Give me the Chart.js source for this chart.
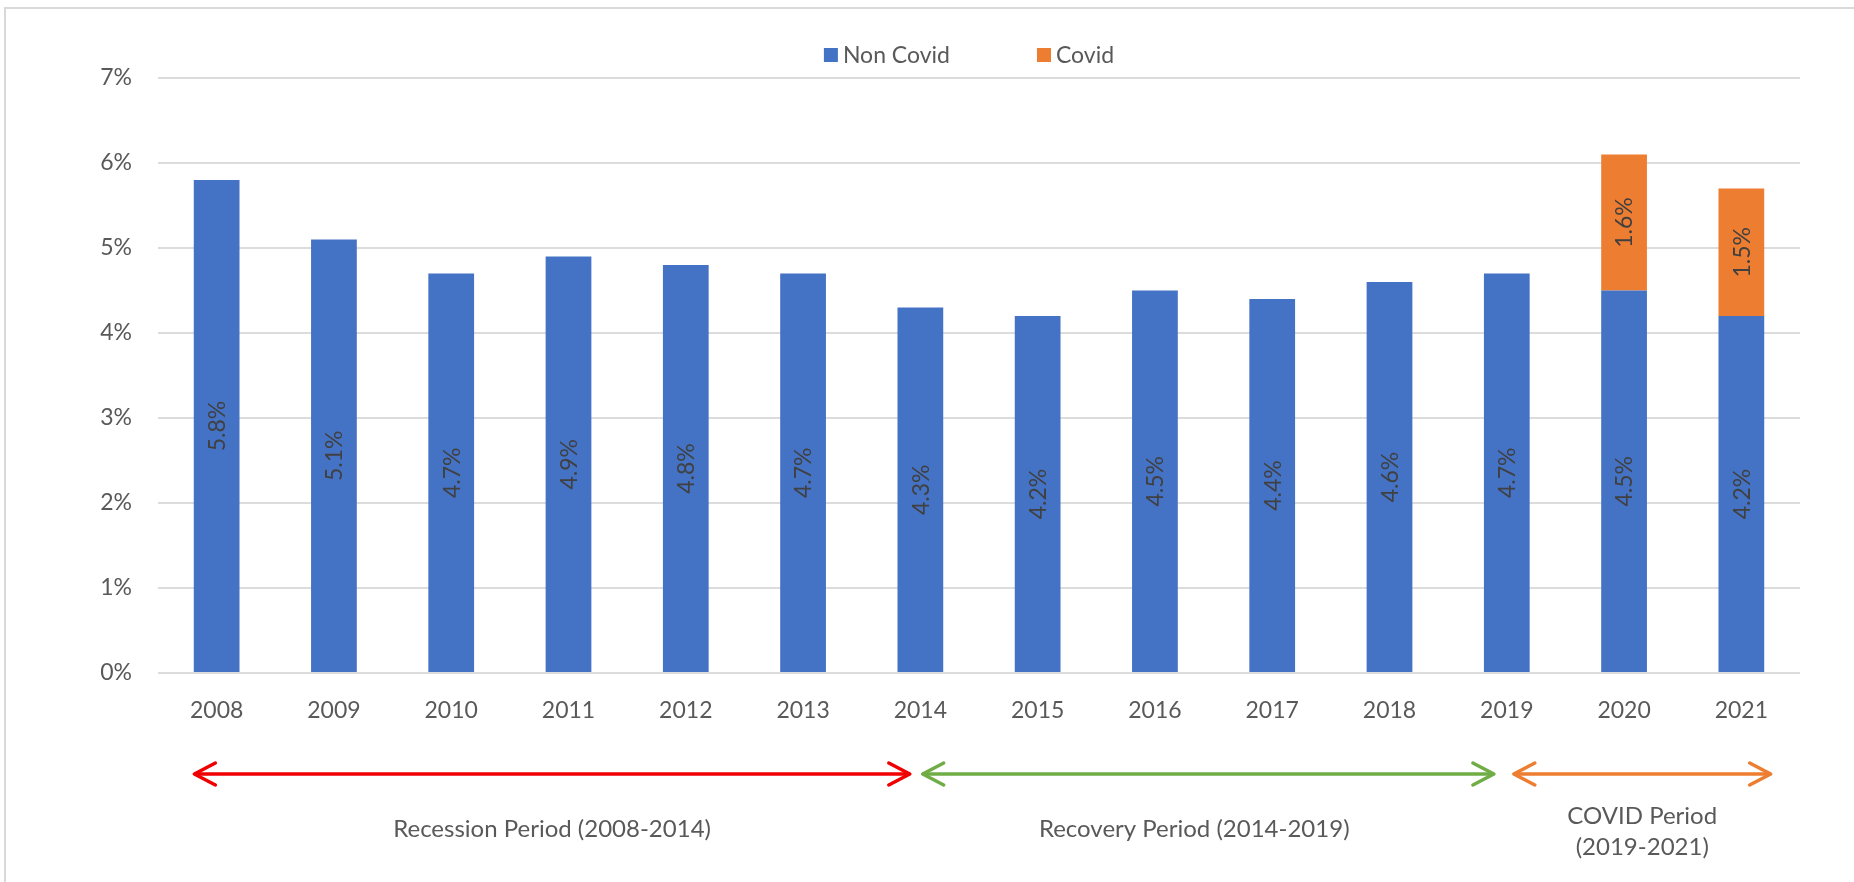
<!DOCTYPE html>
<html>
<head>
<meta charset="utf-8">
<title>Non Covid / Covid</title>
<script src="https://cdn.jsdelivr.net/npm/chart.js@4"></script>
<style>
  html, body { margin: 0; padding: 0; background: #fff; }
  canvas { display: block; }
</style>
</head>
<body>
<canvas id="chart" width="1854" height="882"></canvas>
<script>
const years = ["2008", "2009", "2010", "2011", "2012", "2013", "2014",
  "2015", "2016", "2017", "2018", "2019", "2020", "2021"];
const nonCovid = [5.8, 5.1, 4.7, 4.9, 4.8, 4.7, 4.3, 4.2, 4.5, 4.4, 4.6, 4.7, 4.5, 4.2];
const covid = [null, null, null, null, null, null, null, null, null, null, null, null, 1.6, 1.5];
const yTicks = [0, 1, 2, 3, 4, 5, 6, 7];

const periods = [
  { label: ["Recession Period (2008-2014)"], from: "2008", to: "2014" },
  { label: ["Recovery Period (2014-2019)"], from: "2014", to: "2019" },
  { label: ["COVID Period", "(2019-2021)"], from: "2019", to: "2021" },
];

// arrow look, offsets are in category steps from the year centres
const periodStyles = [
  { color: "#F00000", start: -0.19, end: -0.09, textDx: 0 },
  { color: "#70AD47", start: 0.02, end: -0.11, textDx: -0.12 },
  { color: "#ED7D31", start: 0.06, end: 0.25, textDx: 0 },
];

const FONT = "Lato, 'Open Sans', sans-serif";
const TEXT = "#595959";
const GRID = "#DCDCDC";

const frame = {
  id: "frame",
  beforeDraw(chart) {
    const { ctx } = chart;
    ctx.save();
    ctx.fillStyle = "#fff";
    ctx.fillRect(0, 0, chart.width, chart.height);
    ctx.strokeStyle = "#D9D9D9";
    ctx.lineWidth = 2;
    ctx.strokeRect(5, 8, chart.width + 20, chart.height + 20);
    ctx.restore();
  },
};

const barLabels = {
  id: "barLabels",
  afterDatasetsDraw(chart) {
    const { ctx } = chart;
    ctx.save();
    ctx.font = `23px ${FONT}`;
    ctx.fillStyle = "#404040";
    ctx.textAlign = "center";
    ctx.textBaseline = "middle";
    chart.data.datasets.forEach((ds, i) => {
      chart.getDatasetMeta(i).data.forEach((bar, j) => {
        const v = ds.data[j];
        if (v == null) return;
        const { x, y, base } = bar.getProps(["x", "y", "base"], true);
        ctx.save();
        ctx.translate(x, (y + base) / 2);
        ctx.rotate(-Math.PI / 2);
        ctx.fillText(v.toFixed(1) + "%", 0, 1);
        ctx.restore();
      });
    });
    ctx.restore();
  },
};

const legendRow = {
  id: "legendRow",
  afterDraw(chart) {
    const { ctx, chartArea } = chart;
    const box = 14, gap = 5, spacing = 87;
    ctx.save();
    ctx.font = `23px ${FONT}`;
    ctx.textBaseline = "middle";
    const items = chart.data.datasets.map((ds) => ({
      text: ds.label,
      color: ds.backgroundColor,
      w: box + gap + ctx.measureText(ds.label).width,
    }));
    const total = items.reduce((s, it) => s + it.w, 0) + spacing * (items.length - 1);
    let x = (chartArea.left + chartArea.right) / 2 - 10 - total / 2;
    const y = chartArea.top - 23;
    items.forEach((it) => {
      ctx.fillStyle = it.color;
      ctx.fillRect(x, y - box / 2, box, box);
      ctx.fillStyle = TEXT;
      ctx.fillText(it.text, x + box + gap, y + 1);
      x += it.w + spacing;
    });
    ctx.restore();
  },
};

const periodArrows = {
  id: "periodArrows",
  afterDraw(chart) {
    const { ctx, chartArea } = chart;
    const xs = chart.scales.x;
    const step = xs.getPixelForValue(1) - xs.getPixelForValue(0);
    const y = chartArea.bottom + 101;
    const head = 21, half = 11;
    ctx.save();
    periods.forEach((p, i) => {
      const st = periodStyles[i];
      const x1 = xs.getPixelForValue(years.indexOf(p.from)) + st.start * step;
      const x2 = xs.getPixelForValue(years.indexOf(p.to)) + st.end * step;
      ctx.strokeStyle = st.color;
      ctx.lineWidth = 3.5;
      ctx.lineCap = "round";
      ctx.lineJoin = "round";
      ctx.beginPath();
      ctx.moveTo(x1 + 1, y);
      ctx.lineTo(x2 - 1, y);
      ctx.stroke();
      ctx.beginPath();
      ctx.moveTo(x1 + head, y - half);
      ctx.lineTo(x1, y);
      ctx.lineTo(x1 + head, y + half);
      ctx.moveTo(x2 - head, y - half);
      ctx.lineTo(x2, y);
      ctx.lineTo(x2 - head, y + half);
      ctx.stroke();

      ctx.font = `24px ${FONT}`;
      ctx.fillStyle = TEXT;
      ctx.textAlign = "center";
      ctx.textBaseline = "middle";
      const cx = (x1 + x2) / 2 + st.textDx * step;
      const y0 = p.label.length > 1 ? chartArea.bottom + 143 : chartArea.bottom + 156;
      p.label.forEach((line, k) => ctx.fillText(line, cx, y0 + k * 31));
    });
    ctx.restore();
  },
};

new Chart(document.getElementById("chart"), {
  type: "bar",
  data: {
    labels: years,
    datasets: [
      { label: "Non Covid", data: nonCovid, backgroundColor: "#4472C4" },
      { label: "Covid", data: covid, backgroundColor: "#ED7D31" },
    ],
  },
  options: {
    responsive: false,
    animation: false,
    devicePixelRatio: 1,
    layout: { padding: { left: 0, right: 54, top: 78, bottom: 0 } },
    datasets: { bar: { categoryPercentage: 1, barPercentage: 0.39 } },
    plugins: {
      legend: { display: false },
      tooltip: { enabled: false },
    },
    scales: {
      x: {
        stacked: true,
        grid: { display: false },
        border: { display: false },
        ticks: {
          color: TEXT,
          font: { family: FONT, size: 23 },
          padding: 16,
          autoSkip: false,
          maxRotation: 0,
        },
        afterFit: (scale) => { scale.height = 209; },
      },
      y: {
        stacked: true,
        min: 0,
        max: 7,
        afterBuildTicks: (scale) => { scale.ticks = yTicks.map((v) => ({ value: v })); },
        grid: { color: GRID, lineWidth: 2, drawTicks: false },
        border: { display: false },
        ticks: {
          color: TEXT,
          font: { family: FONT, size: 23 },
          padding: 26,
          callback: (v) => v + "%",
        },
        afterFit: (scale) => { scale.width = 158; },
      },
    },
  },
  plugins: [frame, barLabels, legendRow, periodArrows],
});
</script>
</body>
</html>
